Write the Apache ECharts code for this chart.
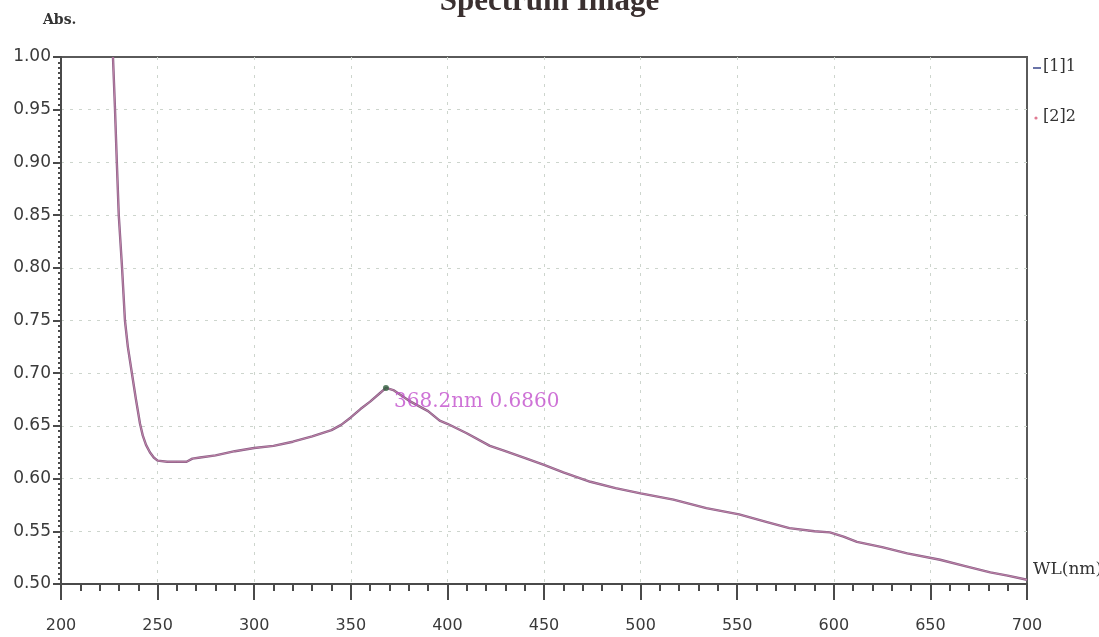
<!DOCTYPE html>
<html>
<head>
<meta charset="utf-8">
<title>Spectrum</title>
<script src="https://cdn.jsdelivr.net/npm/echarts@6/dist/echarts.min.js"></script>
<style>
  html, body { margin: 0; padding: 0; background: #ffffff; }
  #chart { width: 1099px; height: 637px; }
</style>
</head>
<body>
<div id="chart"></div>
<script>
// Wavelength (nm) and absorbance of the UV-Vis scan; traces [1] and [2] coincide
const wavelengths = [
  226.9, 227.9, 228.9, 229.9, 231.6, 233.1, 234.6, 236.7, 238.8, 240.9,
  242.3, 244, 246, 248, 250, 255, 260, 265, 268, 272, 280,
  290, 300, 310, 320, 330, 340, 345, 350, 355, 360,
  365, 368.2, 372, 376, 380, 385, 390, 396, 400, 410,
  422, 430, 441, 450, 460, 474, 487, 500, 517, 534,
  551, 565, 577, 590, 598, 605, 612, 625, 638, 655,
  668, 681, 690, 700
];
const absorbance = [
  1.000, 0.953, 0.900, 0.850, 0.800, 0.750, 0.725, 0.700, 0.675, 0.652,
  0.641, 0.632, 0.625, 0.620, 0.617, 0.616, 0.616, 0.616, 0.619, 0.620, 0.622,
  0.626, 0.629, 0.631, 0.635, 0.640, 0.646, 0.651, 0.658, 0.666, 0.673,
  0.681, 0.686, 0.684, 0.679, 0.674, 0.669, 0.664, 0.655, 0.652, 0.643,
  0.631, 0.626, 0.619, 0.613, 0.606, 0.597, 0.591, 0.586, 0.580, 0.572,
  0.566, 0.559, 0.553, 0.550, 0.549, 0.545, 0.540, 0.535, 0.529, 0.523,
  0.517, 0.511, 0.508, 0.504
];
// Picked peak
const peakWl = 368.2;
const peakAbs = 0.6860;

const seriesNames = ['[1]1', '[2]2'];
const xTicks = [200, 250, 300, 350, 400, 450, 500, 550, 600, 650, 700];
const yTicks = [0.50, 0.55, 0.60, 0.65, 0.70, 0.75, 0.80, 0.85, 0.90, 0.95, 1.00];

const points = wavelengths.map((w, i) => [w, absorbance[i]]);

const chart = echarts.init(document.getElementById('chart'), null, { renderer: 'canvas' });

const gridLine = {
  show: true, showMinLine: false, showMaxLine: false,
  lineStyle: { color: '#cdd5cd', width: 1, type: [3, 6] }
};
const axisFont = { fontFamily: 'DejaVu Sans', fontSize: 16, color: '#3a3a3a' };

chart.setOption({
  animation: false,
  backgroundColor: '#ffffff',
  grid: {
    left: 61, right: 72, top: 57, bottom: 53,
    show: true, borderColor: '#5a5a5a', borderWidth: 2, backgroundColor: 'transparent'
  },
  xAxis: {
    type: 'value',
    min: xTicks[0], max: xTicks[xTicks.length - 1], interval: 50,
    axisLine: { lineStyle: { color: '#4a4a4a', width: 2 } },
    axisTick: { show: true, length: 16, lineStyle: { color: '#4a4a4a', width: 2 } },
    minorTick: { show: true, splitNumber: 5, length: 7, lineStyle: { color: '#4a4a4a', width: 2 } },
    axisLabel: Object.assign({ margin: 34 }, axisFont),
    splitLine: gridLine
  },
  yAxis: {
    type: 'value',
    min: yTicks[0], max: yTicks[yTicks.length - 1], interval: 0.05,
    axisLine: { show: true, lineStyle: { color: '#4a4a4a', width: 2 } },
    axisTick: { show: true, length: 8, lineStyle: { color: '#4a4a4a', width: 2 } },
    minorTick: { show: true, splitNumber: 10, length: 3, lineStyle: { color: '#4a4a4a', width: 2 } },
    axisLabel: Object.assign({ margin: 10, formatter: v => v.toFixed(2) }, axisFont, { fontSize: 17 }),
    splitLine: gridLine
  },
  series: [
    {
      name: seriesNames[0],
      type: 'line',
      data: points,
      showSymbol: false,
      clip: true,
      lineStyle: { color: '#8a6088', width: 2.4 },
      z: 2
    },
    {
      name: seriesNames[1],
      type: 'line',
      data: points,
      showSymbol: false,
      clip: true,
      lineStyle: { color: '#d892b4', width: 1, opacity: 0.7 },
      z: 3
    },
    {
      name: 'peak',
      type: 'scatter',
      data: [[peakWl, peakAbs]],
      symbolSize: 6,
      itemStyle: { color: '#2f5e3c' },
      label: {
        show: true,
        position: 'right',
        offset: [0, 14],
        formatter: () => peakWl.toFixed(1) + 'nm ' + peakAbs.toFixed(4),
        fontFamily: 'DejaVu Serif',
        fontSize: 20,
        color: '#c24fcc'
      },
      z: 5
    }
  ],
  graphic: [
    {
      type: 'text', left: 'center', top: -14,
      style: { text: 'Spectrum Image', font: 'bold 31px "Liberation Serif"', fill: '#3a3030' }
    },
    {
      type: 'text', left: 43, top: 13,
      style: { text: 'Abs.', font: 'bold 14px "DejaVu Serif"', fill: '#333' }
    },
    {
      type: 'text', left: 1033, top: 561,
      style: { text: 'WL(nm)', font: '17px "DejaVu Serif"', fill: '#333' }
    },
    {
      type: 'rect', shape: { x: 1033, y: 67, width: 8, height: 2 },
      style: { fill: '#6a74a8' }
    },
    {
      type: 'text', left: 1043, top: 59,
      style: { text: seriesNames[0], font: '16px "DejaVu Serif"', fill: '#333' }
    },
    {
      type: 'circle', shape: { cx: 1036, cy: 118, r: 1.6 },
      style: { fill: '#e07a92' }
    },
    {
      type: 'text', left: 1043, top: 109,
      style: { text: seriesNames[1], font: '16px "DejaVu Serif"', fill: '#333' }
    }
  ]
});
</script>
</body>
</html>
